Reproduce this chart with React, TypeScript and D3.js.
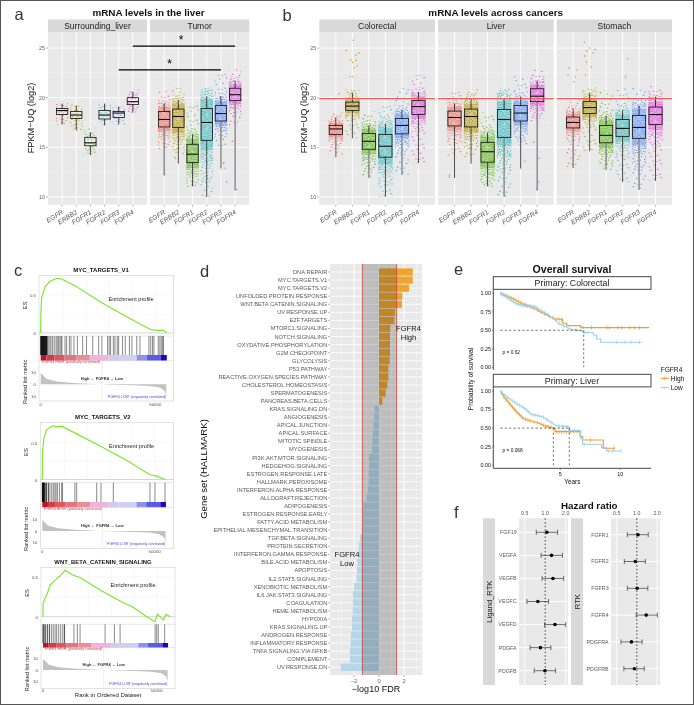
import React from "react";
import * as d3 from "d3";

/* ---------- panels a, b ---------- */
const GENES = ["EGFR", "ERBB2", "FGFR1", "FGFR2", "FGFR3", "FGFR4"];
const GENE_COLORS = ["#ee6f66", "#b3980c", "#5fb61f", "#3db8bc", "#5f94f5", "#e450dc"];
const Y_TICKS = [10, 15, 20, 25];
const Y_MINOR = [12.5, 17.5, 22.5];
// each row: whisker low, q1, median, q3, whisker high, cloud low, cloud high
const SURROUNDING = [
  [17.3, 18.3, 18.7, 18.9, 19.4, 17.3, 19.6],
  [16.7, 17.9, 18.25, 18.6, 19.2, 16.7, 19.5],
  [14.2, 15.15, 15.45, 16.0, 16.5, 14.2, 17.0],
  [17.2, 17.85, 18.25, 18.7, 19.4, 17.3, 19.5],
  [17.3, 18.0, 18.45, 18.6, 19.1, 17.2, 19.1],
  [18.5, 19.3, 19.6, 20.0, 20.6, 18.5, 20.9],
];
const TUMOR = [
  [12.15, 17.05, 17.8, 18.6, 19.4, 14.8, 20.7],
  [13.35, 17.0, 18.1, 18.85, 19.75, 14.0, 21.0],
  [11.05, 13.45, 14.3, 15.3, 16.3, 11.0, 19.3],
  [10.0, 15.7, 17.5, 18.9, 20.1, 10.0, 21.0],
  [12.85, 17.65, 18.4, 19.2, 20.15, 15.0, 22.4],
  [10.65, 19.7, 20.3, 20.95, 21.7, 17.2, 22.9],
];
const COLORECTAL = [
  [14.0, 16.3, 16.85, 17.2, 18.0, 14.2, 18.6],
  [15.9, 18.7, 19.15, 19.55, 20.5, 15.9, 20.8],
  [11.9, 14.8, 15.6, 16.4, 17.2, 12.0, 18.6],
  [10.0, 14.0, 15.1, 16.3, 17.4, 10.0, 19.2],
  [12.2, 16.35, 17.2, 17.9, 18.75, 12.2, 21.0],
  [13.4, 18.3, 19.1, 19.7, 20.6, 13.4, 22.3],
];
const LIVER = [
  [11.9, 17.15, 18.0, 18.65, 19.4, 14.0, 20.7],
  [13.35, 17.05, 18.1, 18.85, 19.9, 14.0, 20.9],
  [11.05, 13.5, 14.55, 15.5, 16.5, 11.0, 18.5],
  [10.0, 16.0, 17.8, 18.8, 19.9, 10.0, 20.9],
  [12.85, 17.65, 18.45, 19.2, 20.1, 15.2, 22.2],
  [10.65, 19.6, 20.15, 20.9, 21.7, 17.5, 22.9],
];
const STOMACH = [
  [12.9, 16.95, 17.5, 18.05, 18.9, 13.0, 20.0],
  [14.6, 18.4, 19.0, 19.6, 20.45, 14.6, 21.0],
  [12.7, 15.45, 16.2, 17.2, 18.15, 12.7, 20.7],
  [11.5, 16.1, 16.9, 17.8, 18.75, 11.5, 21.0],
  [10.7, 15.9, 17.0, 18.2, 19.2, 10.7, 21.0],
  [11.6, 17.3, 18.3, 19.05, 20.1, 11.6, 21.2],
];
// stray points: gene index, value, horizontal offset in category steps
const STRAY_TUMOR = [[0, 12.3, 0.05], [5, 15.6, -0.2], [5, 13.4, -0.8], [5, 11.5, -0.6], [5, 10.75, 0.1], [4, 13.4, 0.2], [4, 12.9, 0.3], [1, 13.9, -0.2]];
const STRAY_COLORECTAL = [[0, 20.4, 0.2], [1, 25.8, 0.06], [1, 24.75, -0.38], [1, 24.5, 0.4], [1, 24.3, 0.22], [1, 23.8, -0.1], [1, 23.75, 0.22], [1, 23.55, 0.02], [1, 23.2, 0.3], [1, 23.0, 0.1], [1, 22.1, -0.14], [1, 22.1, 0.02]];
const STRAY_LIVER = [[0, 12.2, -0.3], [0, 12.0, -0.32], [5, 11.5, 0.1], [5, 10.75, -0.05], [5, 13.9, 0.1], [5, 15.5, -0.2], [4, 13.6, 0.25]];
const STRAY_STOMACH = [[0, 23.0, -0.26], [0, 22.8, 0.24], [0, 22.3, -0.32], [0, 22.1, 0.14], [0, 21.6, 0.04], [1, 25.6, -0.32], [1, 25.0, 0], [1, 24.85, 0.34], [1, 24.7, -0.16], [1, 24.5, 0.2], [1, 24.2, -0.3], [1, 23.6, -0.2], [1, 23.1, 0.1], [1, 22.3, -0.26], [3, 23.9, 0.3], [3, 22.2, 0.2], [3, 22.0, 0.16]];
const SOFT_TUMOR = [0, 4, 5];
const SOFT_COLORECTAL = [0, 2, 4];
const SOFT_LIVER = [3, 5];
const SOFT_STOMACH = [0, 2, 4];
// fixed stipple tile standing in for the jittered cloud (x, y within a 14px tile)
const STIPPLE = [
  [1.2, 2.1], [8.3, 0.7], [11.9, 6.2], [4.6, 7.4], [9.7, 11.3], [2.4, 12.1], [6.1, 3.9], [13.1, 12.6],
  [5.6, 1.4], [12.7, 2.6], [0.6, 5.6], [7.3, 4.9], [3.1, 9.6], [10.4, 8.6], [13.2, 10.1], [6.6, 12.9], [0.9, 8.3], [9.9, 3.6],
  [3.2, 0.4], [10.6, 1.3], [6.2, 2.9], [2.6, 4.3], [4.9, 4.6], [9.1, 6.3], [13.3, 4.5], [6.9, 7.8], [1.7, 6.9], [11.2, 11.6],
  [8.2, 9.2], [5.2, 10.3], [0.7, 10.9], [12.4, 8.4], [7.9, 11.7], [3.9, 13.3], [12.1, 13.2], [9.4, 13.4], [4.1, 2.6], [7.8, 2.2],
];
const STIPPLE_BANDS = [[0, 8], [8, 18], [18, 38]];

/* ---------- panel c ---------- */
const RANK_TICKS = [0, 50];
const METRIC_RANK = [0, 2.6, 7, 14.2, 26, 26.7, 30.3, 40.4, 47.7, 52, 54.2, 54.8];
const METRIC_VALUE = [9.5, 4.5, 2.3, 1, 0.1, 0, -0.3, -0.8, -1.4, -2.8, -5.6, -10];
const BAR_EDGES = [0, 2.5, 6, 10.4, 15.5, 21.4, 29.5, 33.8, 41.9, 46.2, 52.5, 55];
const BAR_COLORS = ["#b2182b", "#d23b44", "#dd5560", "#e37480", "#e88e96", "#eeb4dc", "#d5c9ee", "#cfcff4", "#8f8ff0", "#5a5ae8", "#2000c0"];
const V1_RANK = [0, 0.05, 0.4, 1.9, 4.1, 7, 9.2, 15.7, 25.9, 37.5, 47.7, 50.6, 53.5, 55];
const V1_ES = [0, 0.24, 0.46, 0.61, 0.68, 0.72, 0.71, 0.61, 0.41, 0.215, 0.05, 0.035, 0.035, 0];
const V1_HITS = [0, 0.2, 0.4, 0.6, 0.8, 1, 1.2, 1.4, 1.6, 1.8, 2, 2.2, 2.4, 2.6, 2.8, 3.3, 4, 4.5, 5.2, 5.9, 6.7, 7.2, 7.8, 8.4, 8.9, 9.3, 10.6, 11.3, 12.5, 13.2, 14.5, 16, 18.3, 20, 22.7, 25.3, 26.7, 29.2, 29.9, 30.5, 31.7, 32.4, 33.4, 34, 35.7, 36.9, 38.7, 39.8, 41.9, 43.3, 47.2, 48, 48.8, 49.4, 51.3, 52, 52.6, 53.2, 53.6];
const V2_RANK = [0, 0.1, 0.7, 1.9, 4.6, 6.7, 8.6, 15.3, 25.7, 37.5, 47.9, 50.9, 54.6];
const V2_ES = [0, 0.376, 0.56, 0.674, 0.73, 0.715, 0.725, 0.62, 0.454, 0.26, 0.064, 0.046, 0];
const V2_HITS = [0, 0.15, 0.3, 0.45, 0.6, 0.75, 0.9, 1.3, 1.9, 2.7, 3.4, 4.2, 4.9, 5.6, 6.1, 6.7, 7.6, 8.6, 9, 14.5, 15.3, 24.2, 26.1, 31.6, 47.9, 50.1, 54.6];
const WNT_RANK = [0, 0.05, 0.9, 1.9, 3.1, 5.3, 7.5, 9.7, 13.3, 16.3, 25.1, 35.3, 39.7, 45.6, 49.3, 50.3, 52.9, 54.1, 55.9];
const WNT_ES = [0, 0.167, 0.23, 0.29, 0.396, 0.458, 0.508, 0.58, 0.517, 0.49, 0.333, 0.175, 0.117, 0, -0.063, 0.033, -0.042, 0.03, 0];
const WNT_HITS = [0, 0.4, 1, 1.9, 2.8, 3.7, 4.5, 5.3, 6, 6.9, 7.8, 8.7, 9.4, 9.5, 13.6, 15.1, 16.3, 27.3, 31.4, 33.9, 49.3, 50, 50.7, 53.5];

/* ---------- panel d ---------- */
const GENE_SETS = ["DNA.REPAIR", "MYC.TARGETS.V1", "MYC.TARGETS.V2", "UNFOLDED.PROTEIN.RESPONSE", "WNT.BETA.CATENIN.SIGNALING", "UV.RESPONSE.UP", "E2F.TARGETS", "MTORC1.SIGNALING", "NOTCH.SIGNALING", "OXYDATIVE.PHOSPHORYLATION", "G2M.CHECKPOINT", "GLYCOLYSIS", "P53.PATHWAY", "REACTIVE.OXYGEN.SPECIES.PATHWAY", "CHOLESTEROL.HOMEOSTASIS", "SPERMATOGENESIS", "PANCREAS.BETA.CELLS", "KRAS.SIGNALING.DN", "ANGIOGENESIS", "APICAL.JUNCTION", "APICAL.SURFACE", "MITOTIC.SPINDLE", "MYOGENESIS", "PI3K.AKT.MTOR.SIGNALING", "HEDGEHOG.SIGNALING", "ESTROGEN.RESPONSE.LATE", "HALLMARK.PEROXISOME", "INTERFERON.ALPHA.RESPONSE", "ALLOGRAFT.REJECTION", "ADIPOGENESIS", "ESTROGEN.RESPONSE.EARLY", "FATTY.ACID.METABOLISM", "EPITHELIAL.MESENCHYMAL.TRANSITION", "TGF.BETA.SIGNALING", "PROTEIN.SECRETION", "INTERFERON.GAMMA.RESPONSE", "BILE.ACID.METABOLISM", "APOPTOSIS", "IL2.STAT5.SIGNALING", "XENOBIOTIC.METABOLISM", "IL6.JAK.STAT3.SIGNALING", "COAGULATION", "HEME.METABOLISM", "HYPOXIA", "KRAS.SIGNALING.UP", "ANDROGEN.RESPONSE", "INFLAMMATORY.RESPONSE", "TNFA.SIGNALING.VIA.NFKB", "COMPLEMENT", "UV.RESPONSE.DN"];
const FDR_VALUES = [2.7, 2.7, 2.4, 1.87, 1.84, 1.28, 1.23, 0.9, 0.88, 0.88, 0.88, 0.85, 0.75, 0.75, 0.67, 0.53, 0.27, -0.37, -0.4, -0.45, -0.5, -0.53, -0.56, -0.8, -0.8, -0.83, -0.83, -0.9, -1.0, -1.25, -1.3, -1.3, -1.33, -1.52, -1.6, -1.65, -1.73, -1.76, -1.79, -2.0, -2.08, -2.08, -2.1, -2.16, -2.16, -2.24, -2.27, -2.32, -2.32, -3.07];
const FDR_TICKS = [-2, 0, 2];
const FDR_LINES = [-1.33, 1.41];

/* ---------- panel e ---------- */
const SURV_TICKS = [0, 0.25, 0.5, 0.75, 1];
const YEAR_TICKS = [5, 10];
const CRC_HIGH = [[0, 1], [0.4, 0.975], [0.8, 0.946], [1.2, 0.915], [1.64, 0.878], [2, 0.85], [2.47, 0.82], [2.9, 0.79], [3.3, 0.752], [3.6, 0.73], [4, 0.694], [4.7, 0.649], [5.2, 0.649], [5.2, 0.595], [5.53, 0.595], [5.53, 0.563], [6.7, 0.563], [6.7, 0.536], [12.4, 0.536]];
const CRC_LOW = [[0, 1], [0.53, 0.95], [0.9, 0.905], [1.36, 0.86], [2.05, 0.83], [2.9, 0.82], [3.2, 0.785], [3.58, 0.75], [4, 0.71], [4.42, 0.66], [4.83, 0.595], [5.25, 0.563], [5.8, 0.518], [6.3, 0.505], [6.86, 0.49], [6.86, 0.47], [7.75, 0.47], [7.75, 0.437], [8.03, 0.437], [8.03, 0.383], [8.36, 0.383], [8.36, 0.338], [11.8, 0.338]];
const LIV_HIGH = [[0, 1], [0.39, 0.9], [0.8, 0.825], [1.36, 0.72], [1.92, 0.63], [2.47, 0.6], [3.17, 0.57], [3.72, 0.53], [4.56, 0.5], [4.56, 0.453], [6.64, 0.453], [6.64, 0.386], [6.86, 0.386], [6.86, 0.34], [8.58, 0.34], [8.58, 0.23], [9.56, 0.23]];
const LIV_LOW = [[0, 1], [0.53, 0.92], [1.36, 0.83], [2.05, 0.765], [2.6, 0.685], [3.6, 0.65], [4.14, 0.587], [4.7, 0.53], [5.75, 0.52], [5.75, 0.466], [6.7, 0.466], [6.7, 0.36], [6.86, 0.36], [6.86, 0.283], [8.44, 0.283], [8.44, 0.238], [8.86, 0.238], [8.86, 0.193], [10.1, 0.193]];
const CRC_HIGH_CENSOR = [0.1, 0.3, 0.5, 0.7, 0.9, 1.1, 1.3, 1.5, 1.7, 1.9, 2.1, 2.3, 2.5, 2.8, 3.1, 3.4, 3.7, 4.1, 4.4, 4.7, 4.9, 5.1, 6.9, 7.6, 8.9, 9.1, 9.8, 10.1, 10.8, 11.2, 11.6];
const CRC_LOW_CENSOR = [0.05, 0.2, 0.35, 0.5, 0.65, 0.8, 0.95, 1.1, 1.25, 1.4, 1.55, 1.7, 1.85, 2, 2.15, 2.3, 2.45, 2.6, 2.75, 2.9, 3.05, 3.2, 3.4, 3.7, 4, 4.4, 4.9, 5.3, 5.8, 6.3, 7.05, 7.3, 9.7, 10.4, 10.9, 11.6];
const LIV_HIGH_CENSOR = [0.1, 0.3, 0.5, 0.7, 0.85, 1, 1.15, 1.3, 1.45, 1.6, 1.75, 1.9, 2.1, 2.3, 2.5, 2.8, 3.1, 3.4, 3.6, 3.8, 4, 4.2, 4.7, 4.9, 5.1, 5.3, 5.5, 5.8, 6.1, 6.4, 7.5, 9.5];
const LIV_LOW_CENSOR = [0.05, 0.2, 0.4, 0.6, 0.8, 1, 1.2, 1.4, 1.6, 1.8, 2, 2.2, 2.4, 2.7, 2.9, 3.1, 3.3, 3.6, 3.9, 4.3, 4.9, 5.2, 5.5, 5.8, 6.2, 7, 9, 9.4, 10.05];

/* ---------- panel f ---------- */
const HR_TICKS = [0.5, 1, 2];
const LIGANDS = ["FGF19", "VEGFA", "VEGFB", "VEGFC", "VEGFD", "PDGFA", "PDGFB"];
const LIGAND_HR = [1.06, 1.24, 1.3, 0.78, 1.39, 0.85, 0.99];
const LIGAND_LO = [0.74, 0.87, 0.9, 0.54, 0.98, 0.6, 0.69];
const LIGAND_HI = [1.52, 1.79, 1.87, 1.12, 2.0, 1.21, 1.42];
const RTKS = ["FGFR1", "FGFR2", "FGFR3", "FGFR4", "PDGFRA", "PDGFRB"];
const RTK_HR = [1.04, 0.95, 1.01, 1.38, 0.83, 0.92];
const RTK_LO = [0.72, 0.65, 0.72, 0.98, 0.58, 0.64];
const RTK_HI = [1.48, 1.34, 1.46, 2.02, 1.2, 1.29];

const FONT = "'Liberation Sans', Arial, sans-serif";
const ORANGE = "#ee9f24";
const SKY = "#9fd0ea";
const PANEL = "#e9e9e9";
const STRIP = "#d9d9d9";

function Patterns() {
  return (
    <defs>
      {GENE_COLORS.map((c, ci) =>
        STIPPLE_BANDS.map((b, bi) => (
          <pattern key={`${ci}-${bi}`} id={`st-${ci}-${bi}`} width={14} height={14} patternUnits="userSpaceOnUse">
            {STIPPLE.slice(b[0], b[1]).map((p, i) => (
              <circle key={i} cx={p[0]} cy={p[1]} r={0.72} fill={c} />
            ))}
          </pattern>
        ))
      )}
    </defs>
  );
}

const yExpr = d3.scaleLinear().domain([9.21, 26.62]).range([204.7, 32]);

function BoxPanel(props: { x0: number; x1: number; label: string; rows: number[][]; strays?: number[][]; soft?: number[]; sparse?: boolean; seed: number }) {
  const { x0, x1, label, rows, strays = [], soft = [], sparse, seed } = props;
  const x = d3.scalePoint<string>().domain(GENES).range([x0, x1]).padding(1);
  const step = x.step();
  const boxW = step * 0.8;
  const cloudW = step * 0.88;
  const top = yExpr.range()[1];
  const bot = yExpr.range()[0];
  return (
    <g>
      <rect x={x0} y={19.5} width={x1 - x0} height={top - 19.5} fill={STRIP} />
      <text x={(x0 + x1) / 2} y={29.3} textAnchor="middle" fontSize={8.5} fill="#222">{label}</text>
      <rect x={x0} y={top} width={x1 - x0} height={bot - top} fill={PANEL} />
      {Y_MINOR.map((v) => <line key={v} x1={x0} x2={x1} y1={yExpr(v)} y2={yExpr(v)} stroke="#f6f6f6" strokeWidth={0.5} />)}
      {Y_TICKS.map((v) => <line key={v} x1={x0} x2={x1} y1={yExpr(v)} y2={yExpr(v)} stroke="#fff" strokeWidth={0.9} />)}
      {GENES.map((g) => <line key={g} x1={x(g)} x2={x(g)} y1={top} y2={bot} stroke="#fff" strokeWidth={0.9} />)}
      {rows.map((r, i) => {
        const [low, q1, , q3, high, cLo, cHi] = r;
        const iqr = q3 - q1;
        const cx = x(GENES[i]) as number;
        const dy = ((seed + i) * 5) % 14;
        const bands = sparse
          ? [[cLo, cHi, 0], [low, high, 1]]
          : [[cLo, cHi, 0], [Math.max(cLo, q1 - 1.3 * iqr), Math.min(cHi, high + iqr * 0.35), 1], [Math.max(cLo, q1 - 0.7 * iqr), Math.min(cHi, q3 + 0.6 * iqr), 2]];
        return (
          <g key={i} transform={`translate(${cx},${dy}) scale(${(seed + i) % 2 ? -1 : 1},1)`}>
            {bands.map((b) => (
              <rect key={b[2]} x={-cloudW / 2} y={yExpr(b[1]) - dy} width={cloudW} height={yExpr(b[0]) - yExpr(b[1])} fill={`url(#st-${i}-${b[2]})`} />
            ))}
            {!sparse && <rect x={-cloudW / 2} y={yExpr(Math.min(cHi, q3 + 0.3 * iqr)) - dy} width={cloudW} height={yExpr(q1 - 0.3 * iqr) - yExpr(q3 + 0.3 * iqr)} fill={GENE_COLORS[i]} opacity={0.42} />}
          </g>
        );
      })}
      {strays.map((s, i) => (
        <circle key={i} cx={(x(GENES[s[0]]) as number) + s[2] * step} cy={yExpr(s[1])} r={0.7} fill={GENE_COLORS[s[0]]} />
      ))}
      {rows.map((r, i) => {
        const [low, q1, med, q3, high] = r;
        const cx = x(GENES[i]) as number;
        const isSoft = soft.includes(i);
        return (
          <g key={i} fill="none" stroke="#111">
            <line x1={cx} x2={cx} y1={yExpr(q1)} y2={yExpr(low)} stroke={isSoft ? "#8c8c8c" : "#222"} strokeWidth={isSoft ? 1.5 : 0.8} />
            <line x1={cx} x2={cx} y1={yExpr(q3)} y2={yExpr(high)} strokeWidth={0.8} />
            <rect x={cx - boxW / 2} y={yExpr(q3)} width={boxW} height={yExpr(q1) - yExpr(q3)} strokeWidth={0.8} fill="none" />
            <line x1={cx - boxW / 2} x2={cx + boxW / 2} y1={yExpr(med)} y2={yExpr(med)} strokeWidth={1.1} />
          </g>
        );
      })}
      {GENES.map((g) => (
        <g key={g}>
          <line x1={x(g)} x2={x(g)} y1={bot} y2={bot + 2} stroke="#666" strokeWidth={0.5} />
          <text transform={`translate(${(x(g) as number) + 1.5},${bot + 8.6}) rotate(-32)`} textAnchor="end" fontSize={6.6} fontStyle="italic" fill="#5a5a5a">{g}</text>
        </g>
      ))}
    </g>
  );
}

function YAxisExpr({ x, labelX }: { x: number; labelX: number }) {
  return (
    <g>
      {Y_TICKS.map((v) => (
        <g key={v}>
          <line x1={x - 2} x2={x} y1={yExpr(v)} y2={yExpr(v)} stroke="#666" strokeWidth={0.5} />
          <text x={x - 3} y={yExpr(v) + 1.9} textAnchor="end" fontSize={5.4} fill="#666">{v}</text>
        </g>
      ))}
      <text transform={`translate(${labelX},118) rotate(-90)`} textAnchor="middle" fontSize={9.2} fill="#111">FPKM−UQ (log2)</text>
    </g>
  );
}

function Gsea(p: { title: string; titleX: number; titleY: number; titleSize: number; left: number; right: number; top: number; es0: number; es05: number; hitTop: number; barTop: number; barBottom: number; rankBottom: number; metric0: number; metricUnit: number; tick0: number; tick50: number; rank: number[]; es: number[]; hits: number[]; profileX: number; profileY: number; ticksY: number }) {
  const x = d3.scaleLinear().domain([0, 50]).range([p.tick0, p.tick50]);
  const esY = d3.scaleLinear().domain([0, 0.5]).range([p.es0, p.es05]);
  const mY = d3.scaleLinear().domain([0, 10]).range([p.metric0, p.metric0 - p.metricUnit * 10]);
  const curve = d3.line<number>().x((_, i) => x(p.rank[i])).y((v) => esY(v));
  const area = d3.area<number>().x((_, i) => x(METRIC_RANK[i])).y0(p.metric0).y1((v) => mY(v));
  const mid = x(26.7);
  return (
    <g>
      <text x={p.titleX} y={p.titleY} textAnchor="middle" fontSize={p.titleSize} fontWeight={700} fill="#111">{p.title}</text>
      <rect x={p.left} y={p.top} width={p.right - p.left} height={p.rankBottom - p.top} fill="#fff" stroke="#cfcfcf" strokeWidth={0.6} />
      {[10, 20, 30, 40, 50].map((r) => <line key={r} x1={x(r)} x2={x(r)} y1={p.top} y2={p.es0} stroke="#eee" strokeWidth={0.4} />)}
      {[0.25, 0.5].map((v) => <line key={v} x1={p.left} x2={p.right} y1={esY(v)} y2={esY(v)} stroke="#eee" strokeWidth={0.4} />)}
      <line x1={p.left} x2={p.right} y1={p.es0} y2={p.es0} stroke="#bbb" strokeWidth={0.6} />
      <path d={curve(p.es) as string} fill="none" stroke="#7be62a" strokeWidth={1.15} />
      <text x={p.profileX} y={p.profileY} textAnchor="middle" fontSize={5.6} fill="#222">Enrichment profile</text>
      <line x1={p.left} x2={p.right} y1={p.hitTop} y2={p.hitTop} stroke="#cfcfcf" strokeWidth={0.5} />
      {p.hits.map((h, i) => (
        <line key={i} x1={x(h)} x2={x(h)} y1={p.hitTop} y2={p.barTop} stroke="#000" strokeWidth={0.75} strokeOpacity={h < 3 ? 1 : 0.62} />
      ))}
      {BAR_COLORS.map((c, i) => (
        <rect key={i} x={x(BAR_EDGES[i])} y={p.barTop} width={x(BAR_EDGES[i + 1]) - x(BAR_EDGES[i])} height={p.barBottom - p.barTop} fill={c} />
      ))}
      <line x1={p.left} x2={p.right} y1={p.barBottom} y2={p.barBottom} stroke="#cfcfcf" strokeWidth={0.5} />
      <path d={area(METRIC_VALUE) as string} fill="#c2c2c2" />
      <line x1={mid} x2={mid} y1={p.barBottom} y2={p.rankBottom} stroke="#aaa" strokeWidth={0.4} strokeDasharray="1 1" />
      <text x={x(0) + 1} y={p.barBottom + 2.6} fontSize={3.6} fill="#d0393f">'FGFR4 HIGH' (positively correlated)</text>
      <text x={x(55) - 0.5} y={p.rankBottom - 3.2} textAnchor="end" fontSize={3.6} fill="#4747e0">'FGFR4 LOW' (negatively correlated)</text>
      <text x={mid} y={p.metric0 - 4.3} textAnchor="middle" fontSize={4} fontWeight={700} fill="#333">{"High ← FGFR4 → Low"}</text>
      <text x={p.left - 3} y={esY(0.5) + 2} textAnchor="end" fontSize={4.4} fill="#555">0.5</text>
      <text x={p.left - 3} y={esY(0) + 2} textAnchor="end" fontSize={4.4} fill="#555">0</text>
      {[10, 0, -10].map((v) => (
        <text key={v} x={p.left - 3} y={mY(v) + 1.6} textAnchor="end" fontSize={4.4} fill="#555">{Math.abs(v)}</text>
      ))}
      {RANK_TICKS.map((t) => (
        <text key={t} x={x(t)} y={p.ticksY} textAnchor="middle" fontSize={4.4} fill="#555">{t === 0 ? "0" : `${t}000`}</text>
      ))}
      <text transform={`translate(${p.left - 12},${(p.top + p.es0) / 2 + 1}) rotate(-90)`} textAnchor="middle" fontSize={5.8} fill="#222">ES</text>
      <text transform={`translate(${p.left - 12},${(p.barBottom + p.rankBottom) / 2 + 1}) rotate(-90)`} textAnchor="middle" fontSize={5.6} fill="#222">Ranked list metric</text>
    </g>
  );
}

function Hallmark() {
  const x = d3.scaleLinear().domain([-3.92, 3.44]).range([330, 422]);
  const y = d3.scalePoint<string>().domain(GENE_SETS).range([272, 667.3]);
  const h = 7.3;
  return (
    <g>
      <rect x={330} y={264} width={92} height={411} fill={PANEL} />
      {[-3, -1, 1, 3].map((t) => <line key={t} x1={x(t)} x2={x(t)} y1={264} y2={675} stroke="#f6f6f6" strokeWidth={0.5} />)}
      {FDR_TICKS.map((t) => <line key={t} x1={x(t)} x2={x(t)} y1={264} y2={675} stroke="#fff" strokeWidth={0.9} />)}
      {GENE_SETS.map((g) => <line key={g} x1={330} x2={422} y1={y(g)} y2={y(g)} stroke="#fff" strokeWidth={0.8} />)}
      {GENE_SETS.map((g, i) => {
        const v = FDR_VALUES[i];
        return <rect key={g} x={x(Math.min(0, v))} y={(y(g) as number) - h / 2} width={Math.abs(x(v) - x(0))} height={h} fill={v > 0 ? "#eea52e" : "#b6d7ea"} />;
      })}
      <rect x={x(FDR_LINES[0])} y={264} width={x(FDR_LINES[1]) - x(FDR_LINES[0])} height={411} fill="#cfcfcf" style={{ mixBlendMode: "multiply" }} />
      {FDR_LINES.map((v) => <line key={v} x1={x(v)} x2={x(v)} y1={264} y2={675} stroke="#c9453a" strokeWidth={0.8} />)}
      {GENE_SETS.map((g) => (
        <g key={g}>
          <line x1={328} x2={330} y1={y(g)} y2={y(g)} stroke="#666" strokeWidth={0.5} />
          <text x={327.3} y={(y(g) as number) + 2} textAnchor="end" fontSize={5.7} fill="#5a5a5a">{g}</text>
        </g>
      ))}
      {FDR_TICKS.map((t) => (
        <g key={t}>
          <line x1={x(t)} x2={x(t)} y1={675} y2={677} stroke="#666" strokeWidth={0.5} />
          <text x={x(t)} y={682.5} textAnchor="middle" fontSize={5.8} fill="#666">{t < 0 ? `−${-t}` : t}</text>
        </g>
      ))}
      <text x={376} y={692} textAnchor="middle" fontSize={9} fill="#111">−log10 FDR</text>
      <text transform="translate(207,469) rotate(-90)" textAnchor="middle" fontSize={9.6} fill="#111">Gene set (HALLMARK)</text>
      <text x={408.5} y={331} textAnchor="middle" fontSize={7.6} fill="#111">FGFR4</text>
      <text x={408.5} y={340} textAnchor="middle" fontSize={7.6} fill="#111">High</text>
      <text x={347} y={557} textAnchor="middle" fontSize={7.6} fill="#111">FGFR4</text>
      <text x={347} y={565.5} textAnchor="middle" fontSize={7.6} fill="#111">Low</text>
    </g>
  );
}

function KmPanel(p: { label: string; stripTop: number; y1: number; y0: number; high: number[][]; low: number[][]; highC: number[]; lowC: number[]; medians: number[]; pText: string; pY: number; axisBottom: number }) {
  const x = d3.scaleLinear().domain([0, 5]).range([500.3, 560.3]);
  const y = d3.scaleLinear().domain([0, 1]).range([p.y0, p.y1]);
  const line = d3.line<number[]>().x((d) => x(d[0])).y((d) => y(d[1]));
  const at = (curve: number[][], t: number) => {
    const i = d3.bisectRight(curve.map((d) => d[0]), t);
    const a = curve[Math.max(0, i - 1)];
    const b = curve[Math.min(curve.length - 1, i)];
    return b[0] === a[0] ? a[1] : a[1] + ((t - a[0]) / (b[0] - a[0])) * (b[1] - a[1]);
  };
  const series: [number[][], number[], string][] = [[p.high, p.highC, ORANGE], [p.low, p.lowC, SKY]];
  return (
    <g>
      <rect x={493.3} y={p.stripTop} width={157.7} height={12.6} fill="#fff" stroke="#333" strokeWidth={0.9} />
      <text x={572} y={p.stripTop + 9.6} textAnchor="middle" fontSize={8.8} fill="#222">{p.label}</text>
      <line x1={493.3} x2={493.3} y1={p.stripTop + 12.6} y2={p.axisBottom} stroke="#333" strokeWidth={0.9} />
      {series.map(([c, cen, col]) => (
        <g key={col}>
          <path d={line(c) as string} fill="none" stroke={col} strokeWidth={1.15} />
          {cen.map((t, i) => (
            <line key={i} x1={x(t)} x2={x(t)} y1={y(at(c, t)) - 2} y2={y(at(c, t)) + 2} stroke={col} strokeWidth={0.7} />
          ))}
        </g>
      ))}
      <path d={`M${x(0)},${y(0.5)}H${x(p.medians[p.medians.length - 1])}`} stroke="#111" strokeWidth={0.6} strokeDasharray="2.2 2.2" fill="none" />
      {p.medians.map((m) => (
        <line key={m} x1={x(m)} x2={x(m)} y1={y(0.5)} y2={y(0)} stroke="#111" strokeWidth={0.6} strokeDasharray="2.2 2.2" />
      ))}
      {SURV_TICKS.map((v) => (
        <g key={v}>
          <line x1={491.8} x2={493.3} y1={y(v)} y2={y(v)} stroke="#333" strokeWidth={0.5} />
          <text x={491} y={y(v) + 1.9} textAnchor="end" fontSize={5.4} fill="#111">{v.toFixed(2)}</text>
        </g>
      ))}
      <text x={502.5} y={p.pY} fontSize={4.8} fill="#111">{p.pText}</text>
    </g>
  );
}

function Survival() {
  const x = d3.scaleLinear().domain([0, 5]).range([500.3, 560.3]);
  return (
    <g>
      <text x={572} y={273} textAnchor="middle" fontSize={10.6} fontWeight={700} fill="#111">Overall survival</text>
      <KmPanel label="Primary: Colorectal" stripTop={276.7} y1={293.3} y0={367.3} high={CRC_HIGH} low={CRC_LOW} highC={CRC_HIGH_CENSOR} lowC={CRC_LOW_CENSOR} medians={[6.95]} pText="p = 0.62" pY={354} axisBottom={370} />
      <KmPanel label="Primary: Liver" stripTop={374.3} y1={391} y0={465.3} high={LIV_HIGH} low={LIV_LOW} highC={LIV_HIGH_CENSOR} lowC={LIV_LOW_CENSOR} medians={[4.42, 5.75]} pText="p = 0.068" pY={452} axisBottom={468.3} />
      <line x1={493.3} x2={651} y1={468.3} y2={468.3} stroke="#333" strokeWidth={0.9} />
      {YEAR_TICKS.map((t) => (
        <g key={t}>
          <line x1={x(t)} x2={x(t)} y1={468.3} y2={470} stroke="#333" strokeWidth={0.5} />
          <text x={x(t)} y={476} textAnchor="middle" fontSize={5.4} fill="#111">{t}</text>
        </g>
      ))}
      <text x={572.3} y={484} textAnchor="middle" fontSize={6.4} fill="#111">Years</text>
      <text transform="translate(473,379) rotate(-90)" textAnchor="middle" fontSize={6.6} fill="#111">Probability of survival</text>
      <text x={660.7} y={371.5} fontSize={6.6} fill="#111">FGFR4</text>
      {[["High", ORANGE, 378.3], ["Low", SKY, 387.7]].map(([l, c, yy]) => (
        <g key={l as string}>
          <line x1={660.7} x2={669} y1={yy as number} y2={yy as number} stroke={c as string} strokeWidth={1.1} />
          <line x1={664.8} x2={664.8} y1={(yy as number) - 2} y2={(yy as number) + 2} stroke={c as string} strokeWidth={0.6} />
          <text x={670.7} y={(yy as number) + 2.3} fontSize={6.6} fill="#111">{l as string}</text>
        </g>
      ))}
    </g>
  );
}

function Forest(p: { stripX: number; panelX: number; panelW: number; at05: number; at2: number; name: string; labels: string[]; hr: number[]; lo: number[]; hi: number[]; first: number; last: number }) {
  const x = d3.scaleLog().base(2).domain([0.5, 2]).range([p.at05, p.at2]);
  const y = d3.scalePoint<string>().domain(p.labels).range([p.first, p.last]);
  const top = 518.3;
  const h = 166.7;
  return (
    <g>
      <rect x={p.stripX} y={top} width={12} height={h} fill={STRIP} />
      <text transform={`translate(${p.stripX + 8.8},${top + h / 2}) rotate(-90)`} textAnchor="middle" fontSize={7.6} fill="#222">{p.name}</text>
      <rect x={p.panelX} y={top} width={p.panelW} height={h} fill={PANEL} />
      {HR_TICKS.map((t) => <line key={t} x1={x(t)} x2={x(t)} y1={top} y2={top + h} stroke="#fff" strokeWidth={0.9} />)}
      {p.labels.map((l) => <line key={l} x1={p.panelX} x2={p.panelX + p.panelW} y1={y(l)} y2={y(l)} stroke="#fff" strokeWidth={0.9} />)}
      <line x1={x(1)} x2={x(1)} y1={top} y2={top + h} stroke="#333" strokeWidth={0.9} strokeDasharray="1.8 1.8" />
      {p.labels.map((l, i) => {
        const yy = y(l) as number;
        return (
          <g key={l} stroke="#333" strokeWidth={0.7}>
            <line x1={x(p.lo[i])} x2={x(p.hi[i])} y1={yy} y2={yy} />
            <line x1={x(p.lo[i])} x2={x(p.lo[i])} y1={yy - 2.5} y2={yy + 2.5} />
            <line x1={x(p.hi[i])} x2={x(p.hi[i])} y1={yy - 2.5} y2={yy + 2.5} />
            <circle cx={x(p.hr[i])} cy={yy} r={1.8} fill="#000" stroke="none" />
            <text x={p.panelX - 2.4} y={yy + 1.9} textAnchor="end" fontSize={5.3} fill="#5a5a5a" stroke="none">{l}</text>
          </g>
        );
      })}
      {HR_TICKS.map((t) => (
        <text key={t} x={x(t)} y={515} textAnchor="middle" fontSize={5.2} fill="#555">{t.toFixed(1)}</text>
      ))}
    </g>
  );
}

const LETTERS: [string, number, number][] = [["a", 14.5, 20], ["b", 282.5, 21], ["c", 14, 276], ["d", 200, 277], ["e", 454, 275], ["f", 454, 518]];

export default function App() {
  const aX = d3.scalePoint<string>().domain(GENES).range([48, 147]).padding(1);
  const tX = d3.scalePoint<string>().domain(GENES).range([150, 249.3]).padding(1);
  const redY = yExpr(19.9);
  return (
    <svg width={694} height={705} viewBox="0 0 694 705" style={{ position: "fixed", left: 0, top: 0, fontFamily: FONT, background: "#fff" }}>
      <Patterns />
      <rect x={0.5} y={0.5} width={693} height={704} fill="none" stroke="#555" strokeWidth={1} />
      {LETTERS.map(([l, x, y]) => <text key={l} x={x} y={y} fontSize={16.5} fill="#333">{l}</text>)}

      {/* a */}
      <text x={148.5} y={16} textAnchor="middle" fontSize={9.9} fontWeight={700} fill="#111">mRNA levels in the liver</text>
      <YAxisExpr x={48} labelX={34} />
      <BoxPanel x0={48} x1={147} label="Surrounding_liver" rows={SURROUNDING} sparse seed={1} />
      <BoxPanel x0={150} x1={249.3} label="Tumor" rows={TUMOR} strays={STRAY_TUMOR} soft={SOFT_TUMOR} seed={3} />
      <line x1={aX("FGFR4")} x2={tX("FGFR4")} y1={yExpr(25.2)} y2={yExpr(25.2)} stroke="#000" strokeWidth={1.2} />
      <line x1={aX("FGFR3")} x2={tX("FGFR3")} y1={yExpr(22.8)} y2={yExpr(22.8)} stroke="#000" strokeWidth={1.2} />
      <text x={181} y={43.5} textAnchor="middle" fontSize={12} fill="#000">*</text>
      <text x={169.7} y={67.5} textAnchor="middle" fontSize={12} fill="#000">*</text>

      {/* b */}
      <text x={495.7} y={16} textAnchor="middle" fontSize={9.9} fontWeight={700} fill="#111">mRNA levels across cancers</text>
      <YAxisExpr x={319.3} labelX={307} />
      <BoxPanel x0={319.3} x1={435} label="Colorectal" rows={COLORECTAL} strays={STRAY_COLORECTAL} soft={SOFT_COLORECTAL} seed={2} />
      <BoxPanel x0={438} x1={553.7} label="Liver" rows={LIVER} strays={STRAY_LIVER} soft={SOFT_LIVER} seed={5} />
      <BoxPanel x0={556.7} x1={672} label="Stomach" rows={STOMACH} strays={STRAY_STOMACH} soft={SOFT_STOMACH} seed={8} />
      {[[319.3, 435], [438, 553.7], [556.7, 672]].map(([a, b]) => (
        <line key={a} x1={a} x2={b} y1={redY} y2={redY} stroke="#ee5f5f" strokeWidth={1.1} />
      ))}

      {/* c */}
      <Gsea title="MYC_TARGETS_V1" titleX={101} titleY={272} titleSize={6} left={39} right={173.7} top={275.7} es0={333} es05={295} hitTop={336} barTop={355} barBottom={360.7} rankBottom={401} metric0={384.3} metricUnit={1.18} tick0={40.7} tick50={155.3} rank={V1_RANK} es={V1_ES} hits={V1_HITS} profileX={131} profileY={301} ticksY={406} />
      <Gsea title="MYC_TARGETS_V2" titleX={102.8} titleY={419} titleSize={6} left={40.3} right={173.7} top={422.7} es0={479.5} es05={442.7} hitTop={482.7} barTop={502} barBottom={507.3} rankBottom={548.5} metric0={531} metricUnit={1.16} tick0={42.3} tick50={154.7} rank={V2_RANK} es={V2_ES} hits={V2_HITS} profileX={131.5} profileY={448} ticksY={552.5} />
      <Gsea title="WNT_BETA_CATENIN_SIGNALING" titleX={103} titleY={563.5} titleSize={5.9} left={41} right={175} top={567.3} es0={616.7} es05={576.7} hitTop={624.3} barTop={643} barBottom={647.7} rankBottom={688.3} metric0={670} metricUnit={1.17} tick0={43} tick50={156.7} rank={WNT_RANK} es={WNT_ES} hits={WNT_HITS} profileX={133} profileY={587} ticksY={692} />
      <text x={108} y={696.5} textAnchor="middle" fontSize={6} fill="#222">Rank in Ordered Dataset</text>

      {/* d */}
      <Hallmark />

      {/* e */}
      <Survival />

      {/* f */}
      <text x={589.3} y={509} textAnchor="middle" fontSize={9.8} fontWeight={700} fill="#111">Hazard ratio</text>
      <Forest stripX={483} panelX={519} panelW={49} at05={524.7} at2={565.7} name="Ligand_RTK" labels={LIGANDS} hr={LIGAND_HR} lo={LIGAND_LO} hi={LIGAND_HI} first={532.3} last={670.7} />
      <Forest stripX={571} panelX={611} panelW={49} at05={616.7} at2={657} name="RTK" labels={RTKS} hr={RTK_HR} lo={RTK_LO} hi={RTK_HI} first={534.7} last={668.7} />
    </svg>
  );
}
